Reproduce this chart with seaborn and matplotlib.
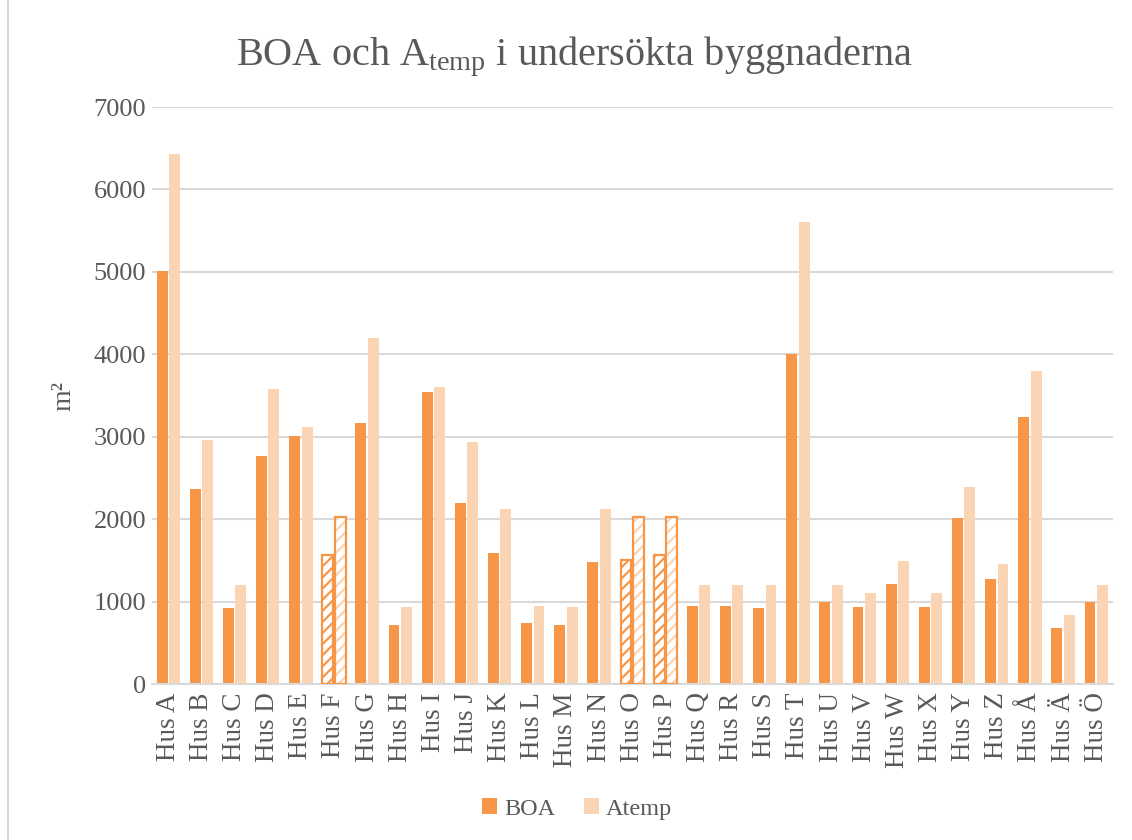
########## =========== BOA OCH ATEMP CHART =========== ##########

import matplotlib
matplotlib.use("Agg")
import matplotlib.pyplot as plt
import matplotlib.patches as mpatches
import matplotlib.lines as mlines
import seaborn as sns
import pandas as pd

boa_color = "#F79646"
atemp_color = "#FBD4B4"
grid_grey = "#D9D9D9"
text_grey = "#595959"

## Data
houses = ["Hus A", "Hus B", "Hus C", "Hus D", "Hus E", "Hus F", "Hus G", "Hus H",
          "Hus I", "Hus J", "Hus K", "Hus L", "Hus M", "Hus N", "Hus O", "Hus P",
          "Hus Q", "Hus R", "Hus S", "Hus T", "Hus U", "Hus V", "Hus W", "Hus X",
          "Hus Y", "Hus Z", "Hus Å", "Hus Ä", "Hus Ö"]
boa = [5010, 2360, 920, 2770, 3010, 1570, 3170, 720, 3540, 2190, 1590, 735, 710, 1480,
       1500, 1560, 950, 950, 920, 4000, 990, 930, 1210, 930, 2010, 1275, 3245, 680, 990]
atemp = [6430, 2960, 1200, 3580, 3120, 2030, 4200, 930, 3600, 2940, 2120, 945, 930, 2120,
         2030, 2030, 1200, 1200, 1200, 5610, 1200, 1100, 1490, 1100, 2390, 1455, 3795, 840, 1200]
hatched = ["Hus F", "Hus O", "Hus P"]  # estimated values, drawn with stripes

df = pd.DataFrame({
    "hus": houses * 2,
    "serie": ["BOA"] * len(houses) + ["Atemp"] * len(houses),
    "area": boa + atemp,
})

## Setup
sns.set_theme(style="white")
plt.rcParams["font.family"] = ["Liberation Serif", "DejaVu Serif"]
plt.rcParams["mathtext.fontset"] = "custom"
plt.rcParams["mathtext.rm"] = "Liberation Serif"
plt.rcParams["hatch.linewidth"] = 1.6

fig = plt.figure(figsize=(11.32, 8.4), dpi=100)
fig.set_facecolor("white")
ax = fig.add_axes([0.134, 0.1857, 0.849, 0.6869])

## Plot
sns.barplot(data=df, x="hus", y="area", hue="serie", order=houses,
            palette=[boa_color, atemp_color], width=0.75, gap=0.12,
            saturation=1, linewidth=0, ax=ax, legend=True)

## Hatched bars (F, O, P)
for cont, col in zip(ax.containers, [boa_color, atemp_color]):
    for bar, name in zip(cont, houses):
        if name in hatched:
            bar.set_facecolor("white")
            bar.set_edgecolor(col)
            bar.set_hatch("///")
            bar.set_linewidth(0)
            ax.add_patch(mpatches.Rectangle(bar.get_xy(), bar.get_width(), bar.get_height(),
                                            fill=False, edgecolor=boa_color, lw=1.6, zorder=3))

## Axes format
ax.set_ylim(0, 7000)
ax.set_yticks(range(0, 7001, 1000))
ax.yaxis.grid(True, color=grid_grey, lw=1.5)
ax.set_axisbelow(True)
sns.despine(ax=ax, left=True, top=True, right=True)
ax.spines["bottom"].set_color(grid_grey)
ax.spines["bottom"].set_linewidth(1.5)
ax.tick_params(axis="x", length=0, labelsize=19.5, labelcolor=text_grey, pad=6)
ax.tick_params(axis="y", length=0, labelsize=19, labelcolor=text_grey, pad=4)
plt.setp(ax.get_xticklabels(), rotation=90)
ax.set_xlim(-0.5, len(houses) - 0.5)

## Labels
ax.set_xlabel("")
ax.set_ylabel("m²", fontsize=20, color=text_grey, labelpad=12)
fig.text(0.508, 0.932, "BOA och A$\\mathregular{_{temp}}$ i undersökta byggnaderna",
         ha="center", va="center", fontsize=29, color=text_grey)

## Legend
handles, labels = ax.get_legend_handles_labels()
ax.legend_.remove()
fig.legend(handles, labels, loc="center", bbox_to_anchor=(0.51, 0.037), ncol=2,
           frameon=False, fontsize=17.5, labelcolor=text_grey, handlelength=0.6,
           handleheight=0.6, handletextpad=0.3, columnspacing=1.2)

## Chart border (left edge only visible)
fig.add_artist(mlines.Line2D([0.0075, 0.0075], [0, 1], transform=fig.transFigure,
                             color=grid_grey, lw=1.5))

## Save
fig.savefig("out.png", dpi=100, facecolor="white")
